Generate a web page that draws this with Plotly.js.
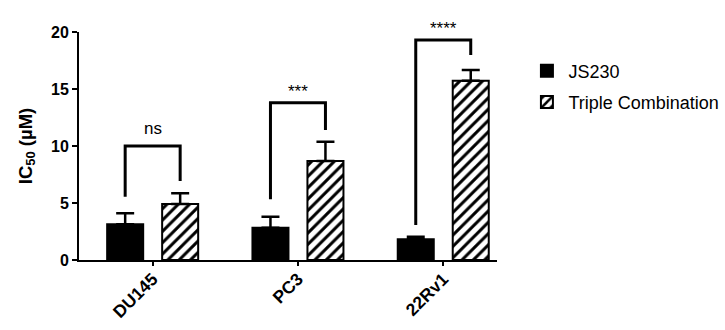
<!DOCTYPE html>
<html>
<head>
<meta charset="utf-8">
<script src="https://cdn.plot.ly/plotly-3.0.1.min.js"></script>
<style>html,body{margin:0;padding:0;background:#fff;}#chart{width:725px;height:330px;}</style>
</head>
<body>
<div id="chart"></div>
<script>
// Data
const cellLines = ['DU145', 'PC3', '22Rv1'];
const js230Mean = [3.13, 2.83, 1.82];
const js230Err = [0.97, 0.97, 0.23];
const tripleMean = [4.91, 8.68, 15.73];
const tripleErr = [0.94, 1.70, 0.94];
// significance brackets: bracket height, left leg bottom, right leg bottom, label
const bracketTop = [10.0, 13.8, 19.3];
const bracketLeftBottom = [5.55, 5.32, 3.07];
const bracketRightBottom = [6.93, 11.4, 17.98];
const sigLabels = ['ns', '***', '****'];

const FONT = 'Liberation Sans, Arial, Helvetica, sans-serif';
const bargap = 0.243;
const half = (1 - bargap) / 4; // offset of each bar centre within group

const traces = [
  {
    type: 'bar', name: 'JS230', x: cellLines, y: js230Mean,
    marker: {color: '#000000', line: {color: '#000000', width: 2}},
    error_y: {type: 'data', symmetric: false, array: js230Err, arrayminus: js230Err.map(() => 0),
              color: '#000000', thickness: 2.5, width: 9},
    legendgroup: 'a'
  },
  {
    type: 'bar', name: 'Triple Combination', x: cellLines, y: tripleMean,
    marker: {color: '#ffffff', line: {color: '#000000', width: 2},
             pattern: {shape: '/', bgcolor: '#ffffff', fgcolor: '#000000', fgopacity: 1, size: 8, solidity: 0.38, fillmode: 'overlay'}},
    error_y: {type: 'data', symmetric: false, array: tripleErr, arrayminus: tripleErr.map(() => 0),
              color: '#000000', thickness: 2.5, width: 9},
    legendgroup: 'b'
  }
];

const shapes = [];
const annotations = [];
cellLines.forEach((c, i) => {
  const xl = i - half, xr = i + half;
  shapes.push({type: 'path', xref: 'x', yref: 'y',
    path: `M ${xl},${bracketLeftBottom[i]} L ${xl},${bracketTop[i]} L ${xr},${bracketTop[i]} L ${xr},${bracketRightBottom[i]}`,
    line: {color: '#000000', width: 3}});
  annotations.push({x: i, y: bracketTop[i], xref: 'x', yref: 'y', text: sigLabels[i], showarrow: false,
    yanchor: 'bottom', yshift: sigLabels[i] === 'ns' ? 6 : 0,
    font: {family: FONT, size: 17, color: '#000000'}});
});

const layout = {
  width: 725, height: 330,
  margin: {l: 79, r: 228, t: 32, b: 70, autoexpand: false},
  paper_bgcolor: '#ffffff', plot_bgcolor: '#ffffff',
  barmode: 'group', bargap: bargap, bargroupgap: 0.345,
  font: {family: FONT, color: '#000000'},
  xaxis: {
    type: 'category', range: [-0.507, 2.37],
    showline: true, linecolor: '#000000', linewidth: 2,
    ticks: 'outside', ticklen: 4, tickwidth: 2, tickcolor: '#000000',
    tickangle: -45, tickfont: {family: FONT, size: 17.5, weight: 700, color: '#000000'},
    ticklabelstandoff: -4, automargin: false,
    showgrid: false, zeroline: false, fixedrange: true
  },
  yaxis: {
    range: [0, 20], tickvals: [0, 5, 10, 15, 20],
    showline: true, linecolor: '#000000', linewidth: 2,
    ticks: 'outside', ticklen: 5, tickwidth: 2, tickcolor: '#000000',
    tickfont: {family: FONT, size: 16, weight: 700, color: '#000000'},
    title: {text: 'IC<sub>50</sub> (µM)', font: {family: FONT, size: 18.5, weight: 700, color: '#000000'}, standoff: 14},
    automargin: false,
    showgrid: false, zeroline: false, fixedrange: true
  },
  showlegend: true,
  legend: {x: 1.068, y: 0.91, xanchor: 'left', yanchor: 'top', tracegroupgap: 5, itemwidth: 33,
           font: {family: FONT, size: 18, color: '#000000'}, bgcolor: 'rgba(0,0,0,0)'},
  shapes: shapes,
  annotations: annotations
};

Plotly.newPlot('chart', traces, layout, {displayModeBar: false, staticPlot: true});
</script>
</body>
</html>
